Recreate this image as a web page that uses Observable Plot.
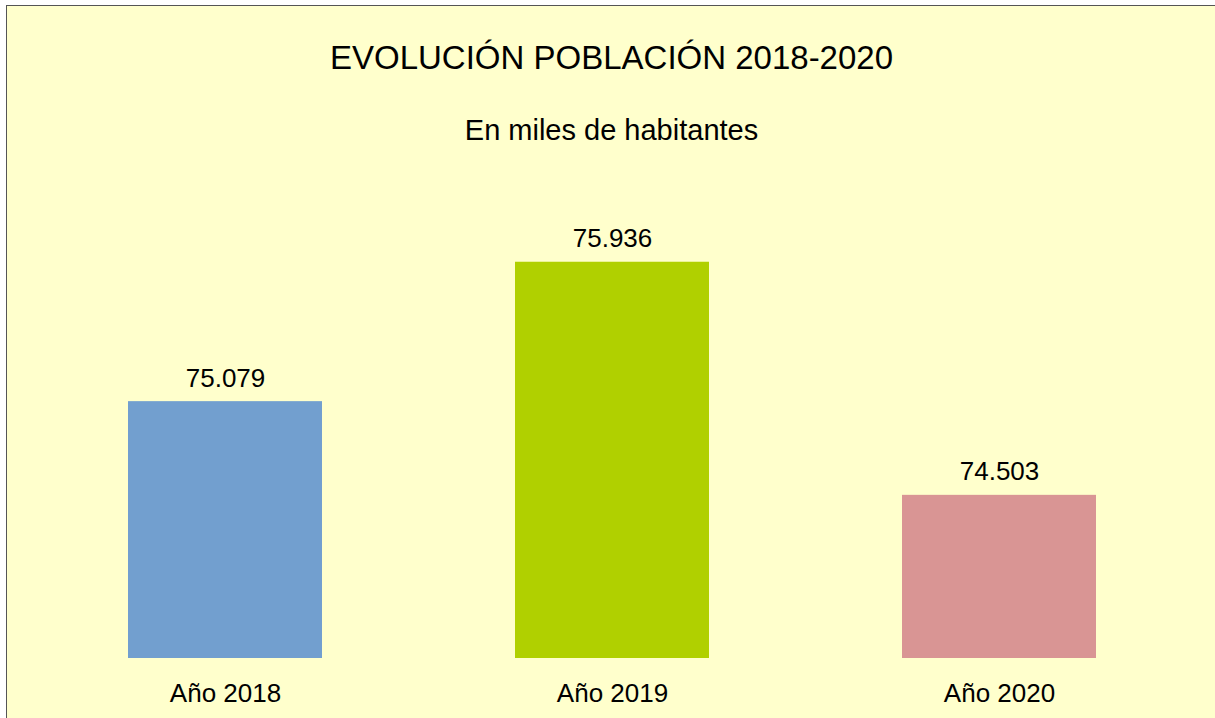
<!DOCTYPE html>
<html>
<head>
<meta charset="utf-8">
<script src="https://cdn.jsdelivr.net/npm/d3@7"></script>
<script src="https://cdn.jsdelivr.net/npm/@observablehq/plot@0.6"></script>
<style>
  html, body { margin: 0; padding: 0; background: #ffffff; }
  body { width: 1215px; height: 718px; overflow: hidden; position: relative; font-family: "Liberation Sans", Arial, sans-serif; }
  #frame { position: absolute; left: 6px; top: 5px; width: 1215px; height: 718px; background: #FFFFCC; border-top: 1px solid #555; border-left: 1px solid #555; }
  #header { position: absolute; left: 0; top: 0; width: 1215px; height: 150px; }
  #title { position: absolute; left: 0; width: 1223px; top: 41px; text-align: center; font-size: 33px; color: #000; white-space: nowrap; line-height: 1; }
  #subtitle { position: absolute; left: 0; width: 1223px; top: 116px; text-align: center; font-size: 29px; color: #000; white-space: nowrap; line-height: 1; }
  #chart { position: absolute; left: 0; top: 150px; }
  #chart svg { background: transparent; }
</style>
</head>
<body>
<div id="frame"></div>
<div id="header">
  <div id="title">EVOLUCIÓN POBLACIÓN 2018-2020</div>
  <div id="subtitle">En miles de habitantes</div>
</div>
<div id="chart"></div>
<script>
const years = ["Año 2018", "Año 2019", "Año 2020"];
const values = [75.079, 75.936, 74.503];
const colors = ["#729FCF", "#B0D000", "#D99594"];

const data = years.map((y, i) => ({year: y, value: values[i], color: colors[i]}));
const fmt = v => v.toFixed(3);

const chart = Plot.plot({
  width: 1215,
  height: 568,
  marginTop: 20,
  marginBottom: 60,
  marginLeft: 30,
  marginRight: 22,
  style: {background: "transparent", fontFamily: "'Liberation Sans', Arial, sans-serif", color: "#000"},
  x: {domain: years, paddingInner: 0.5, paddingOuter: 0.25, label: null},
  y: {domain: [73.5, 76.5], axis: null},
  marks: [
    Plot.barY(data, {x: "year", y1: 73.5, y2: "value", fill: "color"}),
    Plot.text(data, {x: "year", y: "value", text: d => fmt(d.value), lineAnchor: "bottom", dy: -15, fontSize: 26, fill: "#000"}),
    Plot.axisX({tickSize: 0, tickPadding: 25, fontSize: 26, fill: "#000", label: null})
  ]
});
document.getElementById("chart").appendChild(chart);
</script>
</body>
</html>
